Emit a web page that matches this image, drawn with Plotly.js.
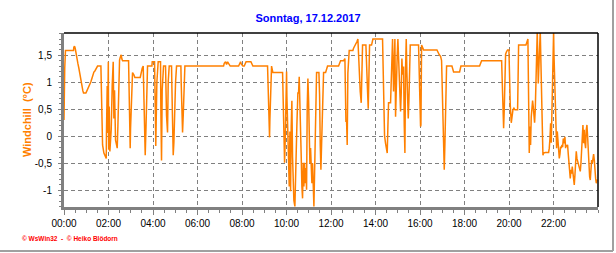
<!DOCTYPE html>
<html>
<head>
<meta charset="utf-8">
<script src="https://cdn.plot.ly/plotly-3.0.1.min.js"></script>
<style>
html,body{margin:0;padding:0;background:#fff;}
#chart{width:616px;height:253px;}
</style>
</head>
<body>
<div id="chart"></div>
<script>
// time of day in minutes since 00:00
const minutes = [
0,0.5,2,4,25.7,26.5,28.4,30.2,32,34.7,37.4,40.1,42.8,45.5,48.2,49.1,50.9,52.7,59,61.7,
64.4,67.1,69.8,72.5,75.2,77.9,80.6,83.3,86.9,90.5,99.5,100.5,101.3,104,107.6,110.3,113.9,114.5,116.5,117.5,
119.5,120.5,121.9,123.7,127.3,130,132.7,134.5,136.3,139,141.7,143.5,145.3,147.1,149.8,151.6,154.3,156.1,157.9,174.1,
175,176.7,178.5,179.5,183,184.8,188.4,191.1,205.5,206.5,208.2,210.9,213.6,214.5,217.2,219,220.8,222.6,225.3,237,
238,244.2,245,246.8,247.5,248.6,250.4,254,260.3,261.2,262.1,263,264.8,266.6,268.4,273.8,274.5,276.5,279.2,281,
283.7,290,291,292.7,294.5,296.3,298.1,300.8,303.5,315.2,316,317.9,319.7,321.5,323.3,326,430.3,432.1,435.7,438.4,
441.1,444.7,448.3,470.8,473.5,476.2,477.9,482.4,486,488.7,491,504,506.7,509.4,548.9,549.8,551.6,554.3,555.2,557,
559.7,561.5,563.3,589.4,590.3,592.1,594.8,596.6,598.4,600.2,601.1,603.8,605.6,607.4,609.2,611,612.7,614.5,616.3,618.1,
619.9,622.6,624.4,626.2,628,630.7,632.5,634.3,636.1,637.9,639.7,641.5,643.3,645.1,646.9,648.7,650.5,652.3,654.1,655.9,
657.7,659.5,661.3,663.1,664.9,666.7,668.5,670.3,672.1,673.9,675.7,677.5,679.3,681.1,687.4,689.2,691,692.8,694.6,696.4,
698.2,700,705.4,707.1,710.7,740.4,743.1,745.8,753.9,756.6,757.5,760.2,762,763.7,765.5,769.1,779,780.8,784.4,787.1,
789.8,792.5,794.3,796.1,798.8,801.5,803.3,805.1,814.1,815,816.8,818.6,820.4,822.2,824,829.4,830.3,833,859,859.9,
862.6,864.4,867.1,868.9,871.6,873.4,875.2,880.6,881.5,883.3,886,888.7,890.5,892.3,894.1,896.8,898.6,900.4,902.2,904,
905.8,907.6,909.4,911.2,913,915.7,917.5,919.3,921.1,922.9,924.7,926.5,928.3,930.1,931.9,933.7,956.1,957.9,959.7,961.5,
962.5,964.3,967,969.7,1005.7,1008.3,1012,1015.5,1018.2,1020,1022.7,1025.4,1027.2,1029,1031.7,1046.1,1047.9,1050.6,1066.8,1068.6,
1070.4,1120.7,1123.4,1126.1,1180.1,1181.9,1183.7,1185.5,1187.2,1189,1190.8,1193.5,1196.2,1199.8,1201.6,1203.4,1206.1,1207.9,1210.6,1213.3,
1216,1223.2,1225,1225.9,1245.7,1246.6,1249.3,1251,1251.9,1252.8,1254.6,1256.4,1258.2,1260,1261.8,1263.6,1265.4,1267.2,1269,1270.8,
1272.6,1274.4,1276.2,1278.9,1280.7,1282.5,1284.3,1286.1,1287.9,1289.7,1291.5,1293.3,1297.8,1306.8,1308.6,1310.4,1312.2,1314,1315.8,1317.6,
1318.5,1320.3,1321.2,1323,1324.8,1326.6,1328.4,1330.2,1332,1333.8,1335.6,1337.4,1339.2,1341,1342.8,1344.6,1346.4,1349.1,1350.8,1352.6,
1354.4,1356.2,1358,1359.8,1361.6,1363.4,1365.2,1367,1368.8,1370.6,1372.4,1374.2,1376,1377.8,1379.6,1381.4,1383.2,1385,1386.8,1388.6,
1390.4,1392.2,1394,1395.8,1397.6,1399.4,1401.2,1403,1404.8,1406.6,1408.4,1410.2,1412,1413.8,1415.6,1417.4,1419.2,1421,1422.8,1424.6,
1426.4,1428.2,1430,1431.8,1433.6,1435.4,1437.2
];
// windchill in °C
const windchill = [
0.30,0.64,1.26,1.59,1.59,1.65,1.67,1.63,1.54,1.44,1.35,1.26,1.14,1.04,0.96,0.93,0.84,0.80,0.80,0.84,
0.88,0.91,0.96,1.01,1.07,1.14,1.19,1.21,1.26,1.30,1.30,0.95,0.25,-0.16,-0.31,-0.36,-0.41,0.04,0.93,0.06,
1.38,-0.25,0.55,-0.28,0.12,0.95,1.38,0.33,0.85,-0.07,-0.16,-0.22,0.18,0.98,1.41,1.46,1.51,1.43,1.40,1.40,
0.99,0.18,-0.22,0.15,0.83,1.18,1.14,1.09,1.09,1.14,1.18,1.26,1.30,0.89,0.09,-0.35,0.09,0.89,1.30,1.30,
1.38,1.38,0.22,0.22,-0.18,0.22,1.00,1.38,1.38,0.49,0.00,-0.45,0.86,1.00,1.30,1.30,1.00,0.38,0.07,1.00,
1.30,1.30,0.89,0.07,-0.35,-0.12,0.38,1.00,1.30,1.30,1.00,0.38,0.07,0.38,1.00,1.30,1.30,1.35,1.38,1.33,
1.38,1.34,1.30,1.30,1.35,1.38,1.34,1.30,1.30,1.35,1.38,1.38,1.34,1.30,1.30,1.00,0.31,-0.02,0.31,1.00,
1.30,1.24,1.18,1.18,0.77,-0.06,-0.49,-0.06,0.77,1.20,0.73,-0.19,-0.75,-0.93,0.09,-1.02,0.18,0.66,-0.38,-1.02,
-1.19,-1.30,-0.93,-0.41,0.21,0.80,0.80,1.10,0.73,0.06,-0.38,-0.93,-1.15,-0.49,-0.93,-0.49,-0.87,-0.59,-0.99,0.55,
1.07,0.70,-0.07,-0.50,-0.22,-0.69,-0.87,-0.50,-1.02,-1.30,-0.69,-0.13,0.55,1.18,1.18,0.77,-0.16,-0.62,-0.16,0.55,
1.10,1.18,1.18,1.24,1.30,1.30,1.35,1.40,1.40,1.44,1.44,0.28,0.28,-0.16,1.17,1.59,1.59,1.63,1.67,1.71,
1.75,1.80,1.44,1.21,0.83,0.62,1.17,1.69,1.69,1.40,1.17,0.83,0.51,1.10,1.69,1.69,1.74,1.80,1.80,1.36,
0.55,0.01,-0.13,-0.24,-0.31,0.17,0.62,0.62,0.89,1.35,1.80,0.83,1.51,1.80,0.36,1.29,1.51,1.80,1.48,1.14,
0.78,0.46,0.80,1.44,1.14,1.29,0.21,-0.31,1.26,1.80,1.17,0.83,0.33,0.67,1.35,1.69,1.69,1.32,0.58,0.18,
0.21,1.69,1.65,1.60,1.60,1.55,1.51,1.48,1.40,0.89,-0.13,-0.62,-0.13,0.83,1.30,1.30,1.26,1.19,1.19,1.26,
1.30,1.30,1.35,1.40,1.40,1.09,0.49,0.15,0.49,1.17,1.52,1.57,1.60,1.60,1.00,0.58,0.25,0.40,0.49,0.52,
0.49,0.49,1.07,1.69,1.69,1.72,1.80,1.80,1.26,0.21,-0.31,0.18,-0.16,0.36,0.56,0.66,0.55,0.36,0.25,0.49,
1.10,1.44,1.95,0.98,1.26,1.59,1.95,1.35,0.73,0.21,-0.35,-0.31,-0.30,-0.30,-0.22,-0.04,0.24,-0.12,0.43,1.23,
1.35,1.95,1.54,0.98,0.52,-0.07,-0.22,0.09,-0.16,-0.35,-0.41,-0.33,-0.19,-0.22,-0.16,-0.20,-0.04,-0.13,-0.01,-0.22,
-0.16,-0.19,-0.16,-0.33,-0.47,-0.62,-0.78,-0.62,-0.69,-0.56,-0.65,-0.81,-0.90,-0.72,-0.50,-0.28,-0.41,-0.47,-0.53,-0.56,
-0.62,-0.65,-0.50,-0.22,-0.01,0.21,-0.13,0.12,-0.13,-0.22,0.12,0.21,-0.01,-0.38,-0.50,-0.75,-0.81,-0.56,-0.44,-0.50,
-0.38,-0.33,-0.44,-0.75,-0.78,-0.87,-0.80
];
const xTickMinutes = [0,120,240,360,480,600,720,840,960,1080,1200,1320];
const xTickLabels = ['00:00','02:00','04:00','06:00','08:00','10:00','12:00','14:00','16:00','18:00','20:00','22:00'];
const yTickValues = [-1,-0.5,0,0.5,1,1.5];
const yTickLabels = ['-1','-0,5','0','0,5','1','1,5'];
const chartTitle = 'Sonntag, 17.12.2017';
const yTitle = 'Windchill&nbsp;&nbsp;(°C)';
const credit = '© WsWin32  -  © Heiko Blödorn';

const FONT = 'Liberation Sans, Arial, sans-serif';
const GRID = '#808080';

const trace = {
  x: minutes, y: windchill, type: 'scatter', mode: 'lines',
  line: {color: '#FF8000', width: 1.5}, hoverinfo: 'skip'
};

const layout = {
  width: 616, height: 253,
  margin: {l: 64, r: 18, t: 33, b: 46, pad: 0},
  paper_bgcolor: '#ffffff', plot_bgcolor: '#ffffff',
  showlegend: false,
  font: {family: FONT, size: 10, color: '#000'},
  title: {text: chartTitle, font: {family: FONT, size: 11, color: '#0000FF', weight: 'bold'},
          x: 0.5, xref: 'container', xanchor: 'center', y: 1 - 18/253, yref: 'container', yanchor: 'middle'},
  xaxis: {
    range: [0, 1440], fixedrange: true,
    tickmode: 'array', tickvals: xTickMinutes, ticktext: xTickLabels,
    ticks: 'outside', ticklen: 5, tickcolor: GRID, tickwidth: 1,
    tickfont: {family: FONT, size: 10, color: '#000'},
    showline: true, linecolor: GRID, linewidth: 3, mirror: false,
    showgrid: true, gridcolor: GRID, gridwidth: 1, griddash: '4px,3px',
    zeroline: false,
    minor: {tickmode: 'linear', tick0: 0, dtick: 30, ticks: 'outside', ticklen: 3, tickcolor: GRID, showgrid: false}
  },
  yaxis: {
    range: [-1.31, 1.913], fixedrange: true,
    tickmode: 'array', tickvals: yTickValues, ticktext: yTickLabels,
    ticks: 'outside', ticklen: 3, tickcolor: GRID, tickwidth: 1,
    ticklabelstandoff: 4,
    tickfont: {family: FONT, size: 10, color: '#000'},
    showline: true, linecolor: GRID, linewidth: 3, mirror: false,
    showgrid: true, gridcolor: GRID, gridwidth: 1, griddash: '4px,3px',
    zeroline: false,
    minor: {tickmode: 'linear', tick0: 0, dtick: 0.1, ticks: 'outside', ticklen: 2, tickcolor: GRID, showgrid: false}
  },
  shapes: [
    {type: 'line', xref: 'paper', yref: 'paper', x0: 0, x1: 1, y0: 1, y1: 1, line: {color: '#000', width: 1.5}},
    {type: 'line', xref: 'paper', yref: 'paper', x0: 1, x1: 1, y0: 0, y1: 1, line: {color: '#000', width: 1.5}},
    {type: 'line', xref: 'paper', yref: 'paper', x0: (613-64)/534, x1: (613-64)/534, y0: (207-251)/174, y1: 207/174, line: {color: '#a0a0a0', width: 2}},
    {type: 'line', xref: 'paper', yref: 'paper', x0: -64/534, x1: (613-64)/534, y0: (207-251)/174, y1: (207-251)/174, line: {color: '#a0a0a0', width: 2}}
  ],
  annotations: [
    {text: yTitle, xref: 'paper', yref: 'paper', x: (27-64)/534, y: 0.5, xanchor: 'center', yanchor: 'middle',
     textangle: -90, showarrow: false, font: {family: FONT, size: 11, color: '#FF8000', weight: 'bold'}},
    {text: credit, xref: 'paper', yref: 'paper', x: (20-64)/534, y: (207-238)/174, xanchor: 'left', yanchor: 'middle',
     showarrow: false, font: {family: FONT, size: 6.5, color: '#FF0000', weight: 'bold'}}
  ]
};

Plotly.newPlot('chart', [trace], layout, {staticPlot: true, displayModeBar: false});
</script>
</body>
</html>
